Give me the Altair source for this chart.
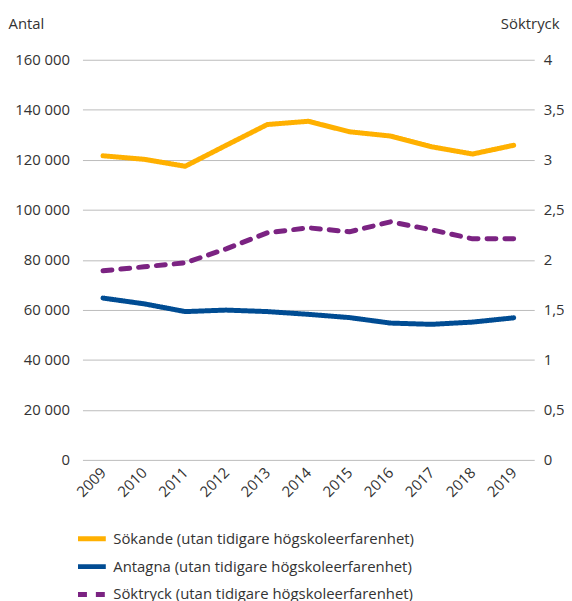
import altair as alt
import pandas as pd

years = [str(y) for y in range(2009, 2020)]
sokande = [121600, 120200, 117400, 125800, 134100, 135400, 131200, 129500, 125200, 122300, 125800]
antagna = [64700, 62400, 59300, 59900, 59300, 58200, 56900, 54700, 54200, 55100, 56800]
soktryck = [1.89, 1.93, 1.97, 2.11, 2.27, 2.32, 2.28, 2.38, 2.30, 2.21, 2.21]

names = ["Sökande (utan tidigare högskoleerfarenhet)",
         "Antagna (utan tidigare högskoleerfarenhet)",
         "Söktryck (utan tidigare högskoleerfarenhet)"]
colors = ["#FFB000", "#004C93", "#7B2382"]
dashes = [[1, 0], [1, 0], [9, 9]]

left = pd.DataFrame({"year": years * 2,
                     "value": sokande + antagna,
                     "serie": [names[0]] * len(years) + [names[1]] * len(years)})
right = pd.DataFrame({"year": years, "value": soktryck, "serie": [names[2]] * len(years)})

FONT = "Open Sans"
TXT = "#333333"

x = alt.X("year:O", scale=alt.Scale(type="point", padding=0.5), title=None,
          axis=alt.Axis(labelAngle=-45, labelAlign="right", labelBaseline="middle",
                        labelPadding=10, ticks=False, domain=False, grid=False,
                        labelFontSize=15, labelColor=TXT, labelFont=FONT))

color = alt.Color("serie:N", scale=alt.Scale(domain=names, range=colors),
                  legend=alt.Legend(title=None, orient="none", legendX=0, legendY=473,
                                    symbolType="M-2,0H2", symbolSize=196, symbolStrokeWidth=5,
                                    labelFontSize=15, labelColor=TXT, labelFont=FONT,
                                    labelOffset=12, rowPadding=7, labelLimit=500,
                                    direction="vertical"))
dash = alt.StrokeDash("serie:N", scale=alt.Scale(domain=names, range=dashes), legend=None)

l1 = alt.Chart(left).mark_line(strokeWidth=5, strokeCap="round", strokeJoin="round").encode(
    x=x,
    y=alt.Y("value:Q", scale=alt.Scale(domain=[0, 160000]), title="Antal",
            axis=alt.Axis(values=list(range(0, 160001, 20000)), orient="left",
                          labelExpr="replace(format(datum.value, ','), ',', ' ')",
                          ticks=False, domain=False, grid=True, gridColor="#BBBBBB",
                          gridWidth=1, labelPadding=13, labelFontSize=15, labelColor=TXT,
                          labelFont=FONT, titleAngle=0, titleX=-75, titleY=-36,
                          titleAlign="left", titleBaseline="middle", titleFontSize=15,
                          titleFontWeight="normal", titleColor=TXT, titleFont=FONT)),
    color=color,
    strokeDash=dash,
)

l2 = alt.Chart(right).mark_line(strokeWidth=5, strokeCap="round", strokeJoin="round").encode(
    x=x,
    y=alt.Y("value:Q", scale=alt.Scale(domain=[0, 4]), title="Söktryck",
            axis=alt.Axis(values=[0, 0.5, 1, 1.5, 2, 2.5, 3, 3.5, 4], orient="right",
                          labelExpr="replace(format(datum.value, ''), '.', ',')",
                          ticks=False, domain=False, grid=False, labelPadding=9,
                          labelFontSize=15, labelColor=TXT, labelFont=FONT,
                          titleAngle=0, titleX=25, titleY=-36, titleAlign="right",
                          titleBaseline="middle", titleFontSize=15, titleFontWeight="normal",
                          titleColor=TXT, titleFont=FONT)),
    color=color,
    strokeDash=dash,
)

chart = alt.layer(l1, l2).resolve_scale(y="independent").properties(
    width=455, height=403,
    autosize=alt.AutoSizeParams(type="none"),
    padding={"left": 75, "top": 50, "right": 30, "bottom": 140},
).configure_view(stroke=None)

chart.save("out.html", embed_options={"renderer": "svg", "actions": False})
